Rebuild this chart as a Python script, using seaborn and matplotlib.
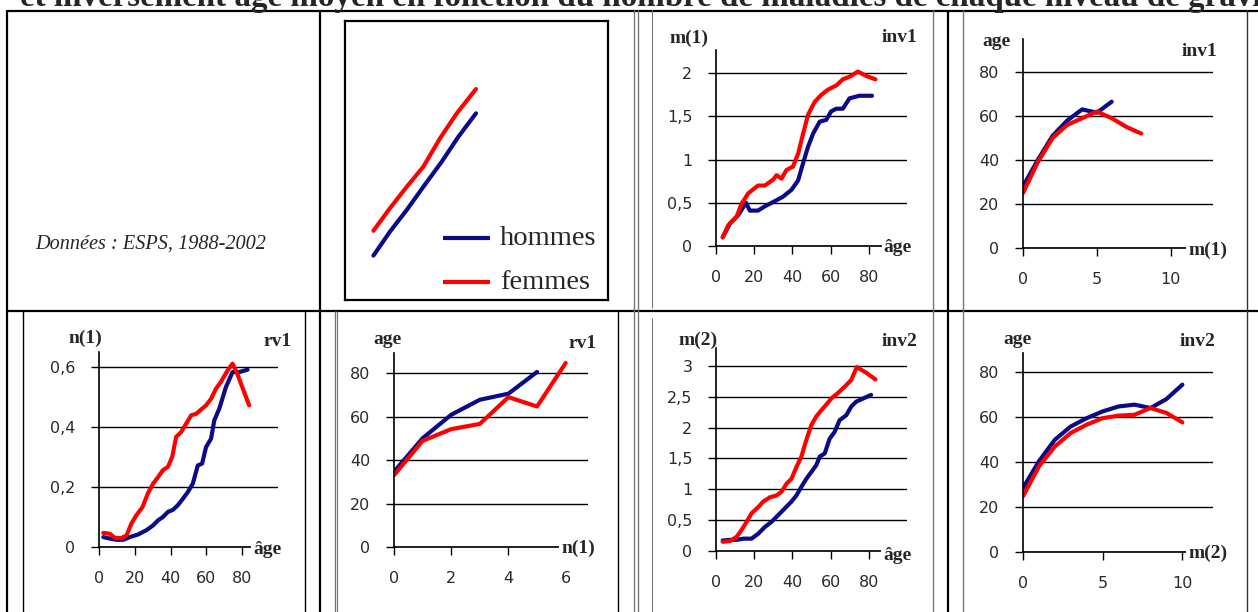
import numpy as np
import pandas as pd
import matplotlib
matplotlib.use("Agg")
import matplotlib.pyplot as plt
from matplotlib.lines import Line2D
import seaborn as sns

# ---------------------------------------------------------------------------
# Données (ESPS 1988-2002) : hommes / femmes
# ---------------------------------------------------------------------------
SEXES = ["hommes", "femmes"]

# inv1 : nombre moyen m(1) selon l'âge
age_m1_h = [3.5, 7.3, 11.7, 15.7, 17.7, 22, 25.6, 30, 35, 39.5, 43, 45.6, 48.2,
            50.8, 54.3, 57.7, 60.3, 63, 66.4, 69.9, 75, 81.7]
m1_h = [0.10, 0.26, 0.36, 0.50, 0.41, 0.41, 0.46, 0.51, 0.57, 0.65, 0.76, 0.96,
        1.15, 1.30, 1.44, 1.46, 1.56, 1.59, 1.59, 1.71, 1.74, 1.74]
age_m1_f = [3.5, 6.4, 10.8, 13.4, 16.9, 22, 25.6, 30, 31.7, 34.3, 36.9, 40.3, 43,
            45.6, 48.2, 51.7, 55.1, 58.6, 63, 66.4, 69.9, 74.3, 78.6, 83.5]
m1_f = [0.10, 0.24, 0.34, 0.49, 0.61, 0.70, 0.70, 0.77, 0.82, 0.78, 0.88, 0.92,
        1.07, 1.30, 1.52, 1.67, 1.75, 1.81, 1.86, 1.93, 1.96, 2.02, 1.97, 1.93]

# inv1 : âge moyen selon m(1)
k_m1_h = [0, 1, 2, 3, 4, 5, 6]
agemoy_m1_h = [28, 40, 51, 58, 63, 61.5, 66.5]
k_m1_f = [0, 1, 2, 3, 4, 5, 6, 7, 8]
agemoy_m1_f = [25, 39, 50, 56, 59, 62, 59, 55, 52]

# rv1 : nombre moyen n(1) selon l'âge
age_n1_h = [2.4, 6.1, 9.8, 13.5, 17.2, 21.9, 26.5, 30.2, 33, 35.7, 38.5, 41.3,
            44, 46.9, 49.6, 52.4, 55.2, 57.6, 59.8, 62.6, 64.4, 67.2, 70.9, 74.6,
            78.3, 83]
n1_h = [0.033, 0.028, 0.024, 0.024, 0.033, 0.042, 0.056, 0.072, 0.089, 0.100,
        0.117, 0.124, 0.139, 0.161, 0.183, 0.211, 0.272, 0.278, 0.333, 0.361,
        0.422, 0.461, 0.533, 0.583, 0.583, 0.591]
age_n1_f = [2.4, 6.1, 8.9, 12.6, 15.4, 18.1, 20.9, 24.3, 27.4, 30.2, 33, 35.7,
            38.5, 40.9, 43.1, 45.9, 48.7, 51.5, 54.3, 57, 59.8, 62.6, 65.4, 68.1,
            71.9, 74.6, 76.9, 83.9]
n1_f = [0.047, 0.044, 0.030, 0.030, 0.039, 0.078, 0.106, 0.133, 0.180, 0.211,
        0.233, 0.256, 0.267, 0.300, 0.367, 0.383, 0.411, 0.439, 0.444, 0.458,
        0.472, 0.494, 0.528, 0.550, 0.589, 0.611, 0.583, 0.472]

# rv1 : âge moyen selon n(1)
k_n1_h = [0, 1, 2, 3, 4, 5]
agemoy_n1_h = [34.6, 50, 60.8, 67.7, 70.5, 80.5]
k_n1_f = [0, 1, 2, 3, 4, 5, 6]
agemoy_n1_f = [33, 48.8, 54.2, 56.6, 68.9, 64.6, 84.6]

# inv2 : nombre moyen m(2) selon l'âge
age_m2_h = [3.5, 7.3, 10.8, 14.3, 18.6, 22.1, 25.6, 29, 32.5, 36, 39.5, 42.1,
            44.7, 47.3, 49.9, 52.5, 54.3, 56.9, 59.5, 62.1, 64.7, 68.2, 70.8,
            73.4, 76.9, 81.2]
m2_h = [0.17, 0.18, 0.18, 0.20, 0.20, 0.28, 0.39, 0.47, 0.58, 0.69, 0.80, 0.90,
        1.04, 1.17, 1.28, 1.39, 1.53, 1.58, 1.82, 1.93, 2.12, 2.20, 2.34, 2.42,
        2.47, 2.53]
age_m2_f = [3.5, 7.3, 10.8, 13.4, 16, 18.6, 22.1, 24.7, 28.2, 31.7, 34.3, 36.9,
            39.5, 42.1, 44.7, 47.3, 49.9, 52.5, 55.1, 57.7, 60.3, 63.8, 67.3,
            70.8, 73.7, 78.6, 83.5]
m2_f = [0.15, 0.16, 0.23, 0.34, 0.47, 0.61, 0.71, 0.80, 0.87, 0.90, 0.96, 1.09,
        1.17, 1.36, 1.53, 1.80, 2.04, 2.18, 2.28, 2.37, 2.47, 2.56, 2.66, 2.77,
        2.98, 2.89, 2.78]

# inv2 : âge moyen selon m(2)
k_m2_h = [0, 1, 2, 3, 4, 5, 6, 7, 8, 9, 10]
agemoy_m2_h = [28.5, 40.4, 50, 55.9, 59.6, 62.6, 64.8, 65.6, 64.1, 68.1, 74.5]
k_m2_f = [0, 1, 2, 3, 4, 5, 6, 7, 8, 9, 10]
agemoy_m2_f = [24.8, 38.1, 47, 53, 56.7, 59.6, 60.7, 61.1, 64.1, 61.9, 57.7]

# schéma de la légende
schema_x_h = [0.108, 0.171, 0.235, 0.298, 0.368, 0.431, 0.498]
schema_y_h = [0.159, 0.245, 0.323, 0.406, 0.496, 0.585, 0.669]
schema_x_f = [0.108, 0.171, 0.235, 0.298, 0.361, 0.425, 0.498]
schema_y_f = [0.248, 0.329, 0.406, 0.478, 0.579, 0.669, 0.756]

TITRE = ("et inversement âge moyen en fonction du nombre de maladies "
         "de chaque niveau de gravité")
SOURCE = "Données : ESPS, 1988-2002"

# ---------------------------------------------------------------------------
W, H, DPI = 1258, 612, 100
BLEU = "#0b0b87"
ROUGE = "#ff0000"
PALETTE = {"hommes": BLEU, "femmes": ROUGE}
SERIF = ["Liberation Serif", "DejaVu Serif"]

sns.set_style("white")
plt.rcParams["font.family"] = ["DejaVu Sans"]

fig = plt.figure(figsize=(W / DPI, H / DPI), dpi=DPI)


def fx(x):
    return x / W


def fy(y):
    return 1 - y / H


def rect(x0, y0, x1, y1):
    return [fx(x0), fy(y1), (x1 - x0) / W, (y1 - y0) / H]


def trait(x0, y0, x1, y1, color="black", lw=1.5):
    fig.add_artist(Line2D([fx(x0), fx(x1)], [fy(y0), fy(y1)],
                          transform=fig.transFigure, color=color, lw=lw,
                          solid_capstyle="butt"))


def etiquette(x, y, s, fond=False, ha="center"):
    kw = {}
    if fond:
        kw["bbox"] = dict(facecolor="white", edgecolor="none", pad=1.5)
    fig.text(fx(x), fy(y), s, ha=ha, va="center", fontsize=14,
             fontweight="bold", family=SERIF, zorder=10, **kw)


def panneau(box, xs_h, ys_h, xs_f, ys_f, xlim, ylim, xticks, yticks, ylabels):
    ax = fig.add_axes(rect(*box))
    df = pd.concat([
        pd.DataFrame({"x": xs_h, "y": ys_h, "sexe": "hommes"}),
        pd.DataFrame({"x": xs_f, "y": ys_f, "sexe": "femmes"}),
    ], ignore_index=True)
    sns.lineplot(data=df, x="x", y="y", hue="sexe", palette=PALETTE,
                 estimator=None, sort=False, lw=3, legend=False, ax=ax)
    ax.set_xlim(*xlim)
    ax.set_ylim(*ylim)
    ax.set_xticks(xticks)
    ax.set_xticklabels([str(t) for t in xticks])
    ax.set_yticks(yticks)
    ax.set_yticklabels(ylabels)
    ax.set_xlabel("")
    ax.set_ylabel("")
    ax.yaxis.grid(True, color="black", lw=1.0)
    ax.xaxis.grid(False)
    ax.set_axisbelow(True)
    for s in ("top", "right"):
        ax.spines[s].set_visible(False)
    for s in ("left", "bottom"):
        ax.spines[s].set_color("black")
        ax.spines[s].set_linewidth(1.2)
    ax.tick_params(bottom=True, left=True, direction="out", length=6,
                   width=1.0, color="black", pad=11, labelsize=11.5,
                   labelcolor="#2a2a2a")
    ax.patch.set_alpha(0)
    return ax


# --- inv1 : m(1) selon l'âge
panneau((716, 50, 907, 246), age_m1_h, m1_h, age_m1_f, m1_f,
        (0, 100), (0, 2.27), [0, 20, 40, 60, 80],
        [0, 0.5, 1, 1.5, 2], ["0", "0,5", "1", "1,5", "2"])
etiquette(689, 38, "m(1)")
etiquette(900, 38, "inv1")
etiquette(898, 247, "âge", fond=True)

# --- inv1 : âge selon m(1)
panneau((1023, 39, 1213, 248), k_m1_h, agemoy_m1_h, k_m1_f, agemoy_m1_f,
        (0, 12.85), (0, 95), [0, 5, 10],
        [0, 20, 40, 60, 80], ["0", "20", "40", "60", "80"])
etiquette(997, 42, "age")
etiquette(1200, 52, "inv1")
etiquette(1208, 250, "m(1)", fond=True)

# --- rv1 : n(1) selon l'âge
panneau((99, 352, 278, 547), age_n1_h, n1_h, age_n1_f, n1_f,
        (0, 100), (0, 0.65), [0, 20, 40, 60, 80],
        [0, 0.2, 0.4, 0.6], ["0", "0,2", "0,4", "0,6"])
etiquette(85, 338, "n(1)")
etiquette(278, 342, "rv1")
etiquette(267, 550, "âge", fond=True)

# --- rv1 : âge selon n(1)
panneau((394, 353, 588, 547), k_n1_h, agemoy_n1_h, k_n1_f, agemoy_n1_f,
        (0, 6.78), (0, 89.2), [0, 2, 4, 6],
        [0, 20, 40, 60, 80], ["0", "20", "40", "60", "80"])
etiquette(388, 340, "age")
etiquette(583, 343, "rv1")
etiquette(578, 548, "n(1)", fond=True)

# --- inv2 : m(2) selon l'âge
panneau((716, 348, 907, 551), age_m2_h, m2_h, age_m2_f, m2_f,
        (0, 100), (0, 3.29), [0, 20, 40, 60, 80],
        [0, 0.5, 1, 1.5, 2, 2.5, 3],
        ["0", "0,5", "1", "1,5", "2", "2,5", "3"])
etiquette(698, 340, "m(2)")
etiquette(900, 342, "inv2")
etiquette(897, 555, "âge", fond=True)

# --- inv2 : âge selon m(2)
panneau((1023, 353, 1213, 552), k_m2_h, agemoy_m2_h, k_m2_f, agemoy_m2_f,
        (0, 11.92), (0, 88.6), [0, 5, 10],
        [0, 20, 40, 60, 80], ["0", "20", "40", "60", "80"])
etiquette(1017, 340, "age")
etiquette(1198, 342, "inv2")
etiquette(1208, 553, "m(2)", fond=True)

# --- cadre de légende
axl = fig.add_axes(rect(345, 21, 608, 300))
axl.set_xlim(0, 1)
axl.set_ylim(0, 1)
axl.set_xticks([])
axl.set_yticks([])
for s in axl.spines.values():
    s.set_visible(True)
    s.set_color("black")
    s.set_linewidth(1.6)
sns.lineplot(x=schema_x_f, y=schema_y_f, color=ROUGE, lw=3, sort=False,
             estimator=None, ax=axl)
sns.lineplot(x=schema_x_h, y=schema_y_h, color=BLEU, lw=3, sort=False,
             estimator=None, ax=axl)
for nom, yy in zip(SEXES, [0.221, 0.063]):
    axl.plot([0.374, 0.551], [yy, yy], color=PALETTE[nom], lw=3,
             solid_capstyle="butt")
    axl.text(0.589, yy, nom, ha="left", va="center", fontsize=20.5,
             family=SERIF)

# --- source
fig.text(fx(35), fy(244), SOURCE, ha="left", va="center", fontsize=14.6,
         style="italic", family=SERIF)

# --- titre (la ligne déborde du cadre en haut et à droite)
fig.text(fx(20), fy(6), TITRE, ha="left", va="baseline", fontsize=23.8,
         fontweight="bold", family=SERIF)

# --- grille du tableau
GRIS = "#777777"
trait(7, 10.5, W, 10.5, lw=1.6)
trait(7, 311, W, 311, lw=1.6)
trait(7, 10, 7, H, lw=1.6)
trait(320, 10, 320, H, lw=1.6)
trait(305, 311, 305, H, lw=1.0)
trait(23, 311, 23, H, lw=1.0)
trait(335, 311, 335, H, color=GRIS, lw=1.0)
trait(337, 311, 337, H, color=GRIS, lw=0.8)
trait(618, 311, 618, H, lw=1.0)
trait(634, 10, 634, H, color=GRIS, lw=1.0)
trait(638, 10, 638, H, color=GRIS, lw=1.0)
trait(652, 10, 652, 308, color=GRIS, lw=0.8)
trait(652, 318, 652, H, color=GRIS, lw=0.8)
trait(933, 10, 933, H, color=GRIS, lw=1.0)
trait(948, 10, 948, H, lw=1.6)
trait(963, 10, 963, H, color=GRIS, lw=1.0)
trait(1247, 10, 1247, H, color="#333333", lw=1.0)

fig.savefig("out.png", dpi=DPI)
